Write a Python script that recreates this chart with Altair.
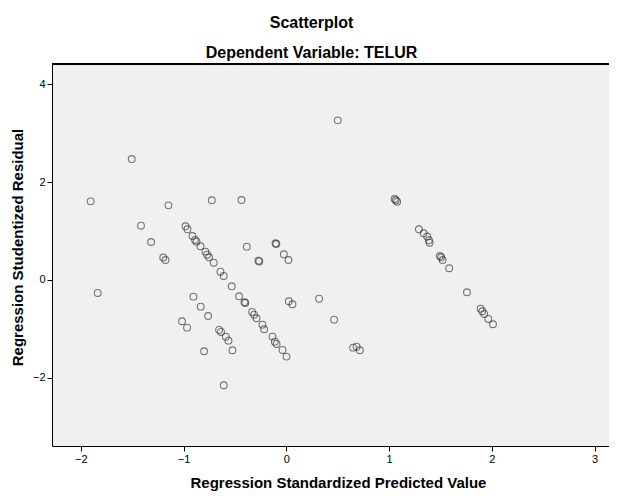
import altair as alt
import pandas as pd

# Regression Standardized Predicted Value (x) and Studentized Residual (y)
pred = [
    -1.504, -1.904, -1.835, -1.147, -1.414, -1.316, -1.198, -1.176, -0.725, -0.436, 0.501,
    -0.981, -0.962, -0.913, -0.888, -0.874, -0.835, -0.787, -0.771, -0.752, -0.706,
    -0.641, -0.609, -0.531, -0.460, -0.407, -0.399, -0.333, -0.314, -0.290, -0.232,
    -0.216, -0.134, -0.112, -0.095, -0.037, 0.002,
    -0.385, -0.105, -0.097, -0.271, -0.263, -0.024, 0.021, 0.024, 0.060, 0.319,
    0.465, 0.650, 0.684, 0.716,
    -0.904, -0.833, -0.761, -1.015, -0.966, -0.654, -0.635, -0.589, -0.563, -0.800,
    -0.524, -0.609,
    1.054, 1.066, 1.079, 1.290, 1.336, 1.371, 1.388, 1.394, 1.495, 1.507, 1.521,
    1.585, 1.758, 1.891, 1.907, 1.926, 1.965, 2.011,
]
resid = [
    2.469, 1.606, -0.265, 1.524, 1.108, 0.776, 0.459, 0.408, 1.627, 1.633, 3.259,
    1.096, 1.035, 0.898, 0.816, 0.782, 0.688, 0.578, 0.516, 0.463, 0.353,
    0.169, 0.082, -0.129, -0.333, -0.455, -0.469, -0.653, -0.708, -0.782, -0.912,
    -1.006, -1.157, -1.259, -1.306, -1.429, -1.565,
    0.680, 0.749, 0.735, 0.394, 0.378, 0.524, 0.408, -0.435, -0.496, -0.382,
    -0.810, -1.382, -1.361, -1.435,
    -0.341, -0.545, -0.735, -0.843, -0.973, -1.020, -1.061, -1.157, -1.239, -1.455,
    -1.435, -2.149,
    1.653, 1.627, 1.598, 1.035, 0.953, 0.888, 0.810, 0.761, 0.490, 0.463, 0.408,
    0.239, -0.251, -0.586, -0.639, -0.694, -0.796, -0.904,
]
x_ticks = [-2, -1, 0, 1, 2, 3]
y_ticks = [-2, 0, 2, 4]

df = pd.DataFrame({"pred": pred, "resid": resid})

W, H = 557, 382
FONT = "Liberation Sans"

x_scale = alt.Scale(domain=[-2.28, 3.14], nice=False, zero=False)
y_scale = alt.Scale(domain=[-3.39, 4.41], nice=False, zero=False)

points = alt.Chart(df).mark_point(
    shape="circle", filled=False, size=46, stroke="#222222",
    strokeWidth=1.1, strokeOpacity=0.85,
).encode(
    x=alt.X("pred:Q", scale=x_scale,
            axis=alt.Axis(values=x_ticks, title="Regression Standardized Predicted Value",
                          titleX=286, titlePadding=11, grid=False)),
    y=alt.Y("resid:Q", scale=y_scale,
            axis=alt.Axis(values=y_ticks, title="Regression Studentized Residual",
                          titleY=183, titlePadding=7, grid=False)),
)

top_rule = alt.Chart(df).mark_rule(color="black", strokeWidth=1).encode(
    x=alt.value(0), x2=alt.value(W), y=alt.value(0)
)

chart = alt.layer(points, top_rule).properties(
    width=W, height=H,
    autosize=alt.AutoSizeParams(type="none"),
    padding={"left": 44, "top": 56, "right": 0, "bottom": 46},
    background="white",
    title=alt.TitleParams(
        text="Scatterplot", subtitle="Dependent Variable: TELUR",
        anchor="middle", dx=-19, offset=3, subtitlePadding=14,
        font=FONT, fontSize=16, fontWeight="bold", color="black",
        subtitleFont=FONT, subtitleFontSize=16, subtitleFontWeight="bold",
        subtitleColor="black",
    ),
).configure_view(
    fill="#F0F0F0", stroke=None
).configure_axis(
    domainColor="black", domainWidth=1, tickColor="black", tickSize=5,
    labelFont=FONT, labelFontSize=11, labelColor="black",
    titleFont=FONT, titleFontSize=15, titleFontWeight="bold", titleColor="black",
)

chart.save("out.html", embed_options={"renderer": "svg", "actions": False})
